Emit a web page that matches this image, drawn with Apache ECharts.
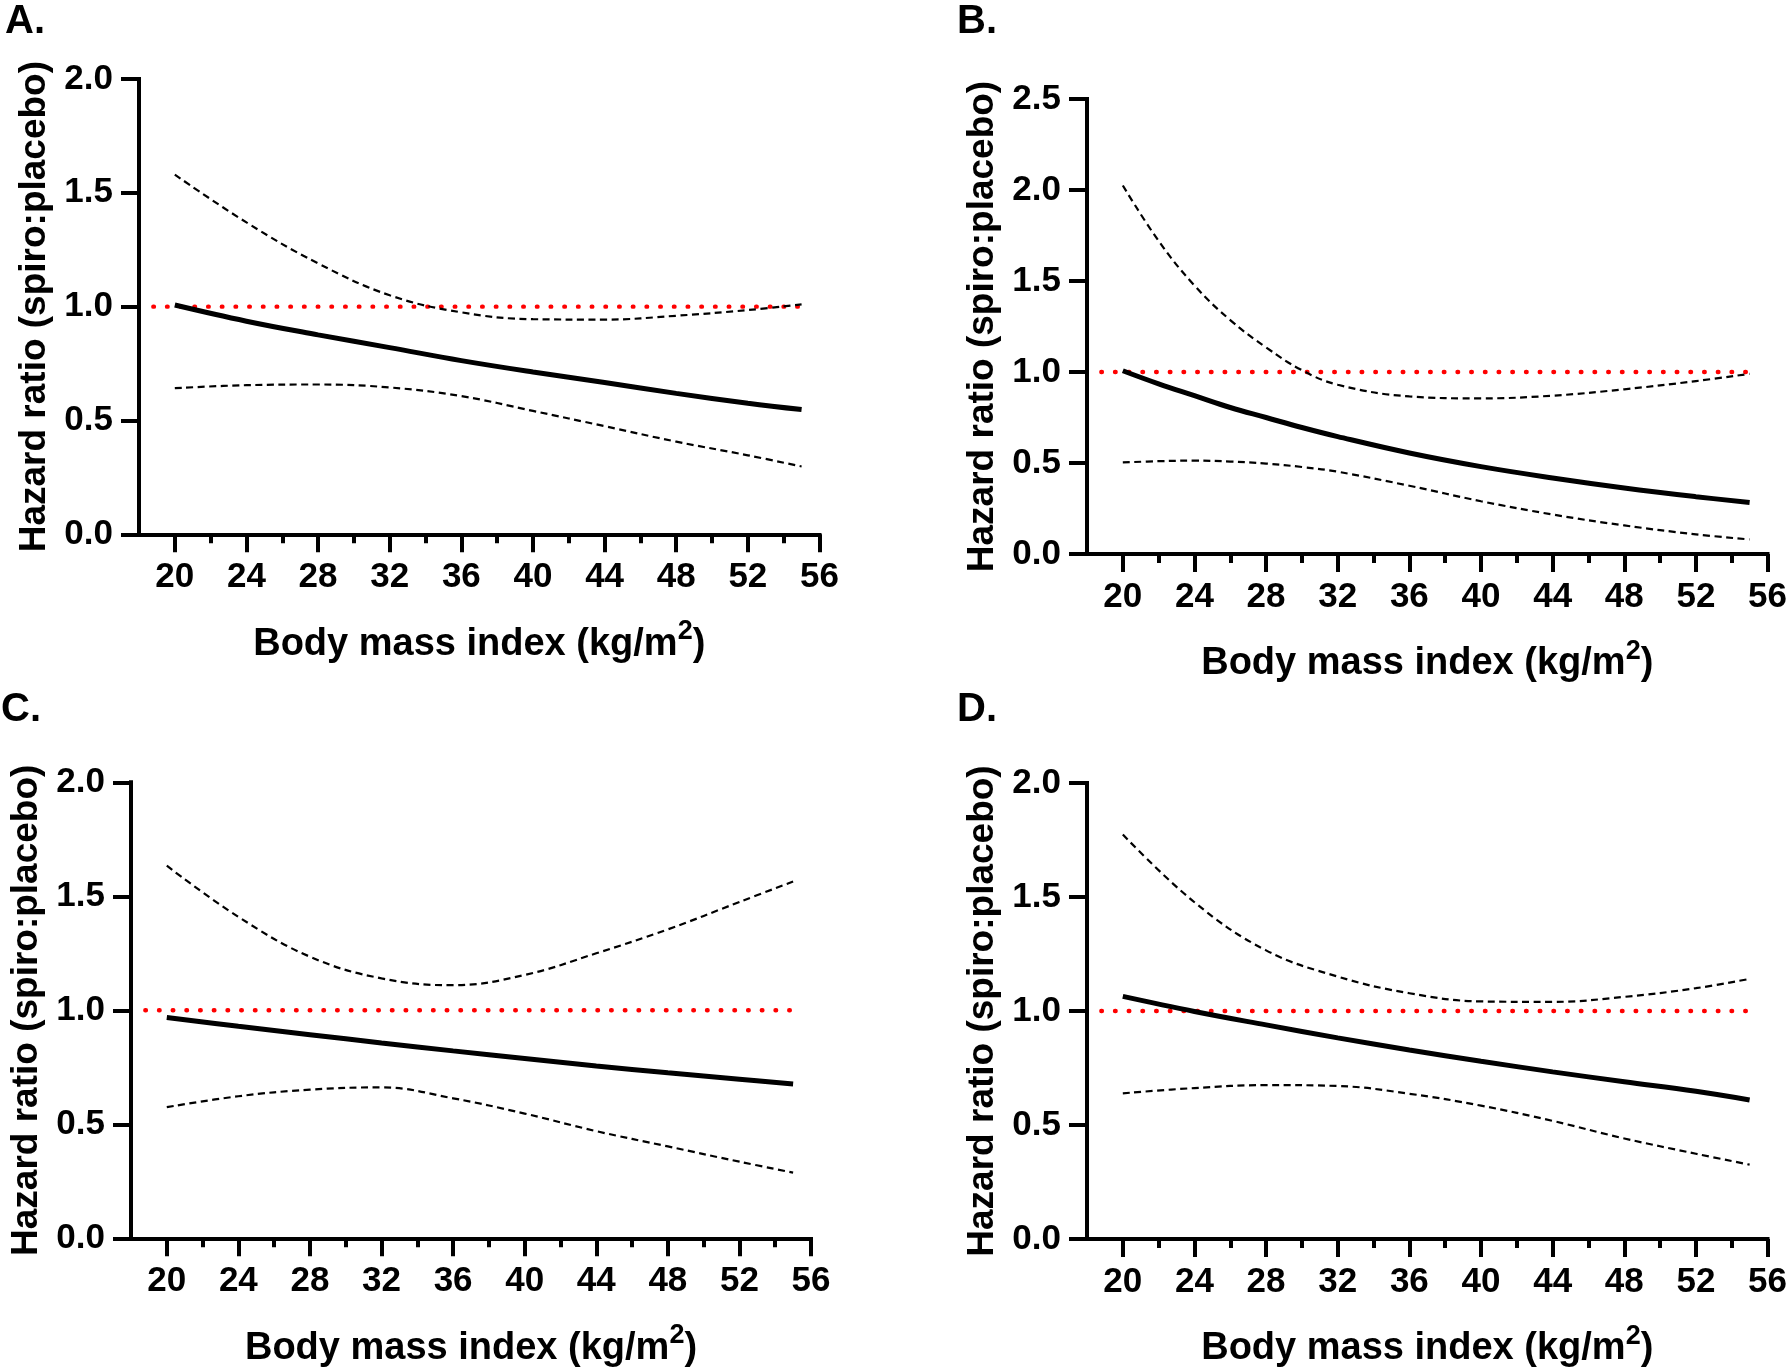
<!DOCTYPE html>
<html>
<head>
<meta charset="utf-8">
<script src="https://cdn.jsdelivr.net/npm/echarts@6/dist/echarts.min.js"></script>
<style>
  html, body { margin: 0; padding: 0; background: #ffffff; }
  #chart { width: 1790px; height: 1370px; }
</style>
</head>
<body>
<div id="chart"></div>
<script>
// ---------- Data ----------
const panelLetters = ['A.', 'B.', 'C.', 'D.'];
const xTickLabels = [20, 24, 28, 32, 36, 40, 44, 48, 52, 56];
const xMinorTicks = [22, 26, 30, 34, 38, 42, 46, 50, 54];
const yMaxes = [2.0, 2.5, 2.0, 2.0];
const refLineX = [18.8, 55.5];
const refLineY = [1, 1];

// Panel A
const bmiA   = [20, 24, 28, 32, 36, 40, 44, 48, 52, 55];
const hrA    = [1.007, 0.936, 0.876, 0.820, 0.763, 0.713, 0.667, 0.619, 0.576, 0.548];
const upperA = [1.580, 1.370, 1.190, 1.050, 0.975, 0.945, 0.943, 0.960, 0.985, 1.010];
const lowerA = [0.642, 0.655, 0.658, 0.645, 0.607, 0.542, 0.475, 0.407, 0.347, 0.298];

// Panel B
const bmiB   = [20, 22, 24, 26, 28, 30, 32, 36, 40, 44, 48, 52, 55];
const hrB    = [1.007, 0.935, 0.870, 0.805, 0.750, 0.695, 0.645, 0.555, 0.480, 0.418, 0.363, 0.315, 0.283];
const upperB = [2.025, 1.720, 1.475, 1.285, 1.135, 1.010, 0.930, 0.866, 0.855, 0.870, 0.905, 0.950, 0.990];
const lowerB = [0.503, 0.510, 0.513, 0.508, 0.497, 0.478, 0.452, 0.375, 0.290, 0.217, 0.157, 0.108, 0.080];

// Panel C
const bmiC   = [20, 24, 28, 32, 36, 40, 44, 48, 52, 55];
const hrC    = [0.968, 0.930, 0.893, 0.857, 0.822, 0.789, 0.756, 0.726, 0.698, 0.677];
const upperC = [1.634, 1.410, 1.235, 1.140, 1.110, 1.155, 1.250, 1.355, 1.475, 1.565];
const lowerC = [0.575, 0.623, 0.652, 0.662, 0.614, 0.547, 0.470, 0.403, 0.336, 0.288];

// Panel D
const bmiD   = [20, 24, 28, 32, 36, 40, 44, 48, 52, 55];
const hrD    = [1.064, 0.998, 0.939, 0.882, 0.829, 0.780, 0.733, 0.690, 0.648, 0.610];
const upperD = [1.774, 1.477, 1.266, 1.151, 1.078, 1.042, 1.040, 1.062, 1.100, 1.141];
const lowerD = [0.639, 0.662, 0.675, 0.671, 0.637, 0.585, 0.518, 0.441, 0.374, 0.326];

const panels = [
  { x: bmiA, hr: hrA, up: upperA, lo: lowerA },
  { x: bmiB, hr: hrB, up: upperB, lo: lowerB },
  { x: bmiC, hr: hrC, up: upperC, lo: lowerC },
  { x: bmiD, hr: hrD, up: upperD, lo: lowerD }
];

// ---------- Layout / style ----------
const FONT = '"Liberation Sans", Arial, Helvetica, sans-serif';
const grids = [
  { left: 139,  top: 79,    width: 680.5, height: 455.3 },
  { left: 1087, top: 99,    width: 684,   height: 455 },
  { left: 131,  top: 782.3, width: 680,   height: 456 },
  { left: 1087, top: 783,   width: 684,   height: 456 }
];
const letterPos = [
  { left: 5,   top: 2 },
  { left: 957, top: 2 },
  { left: 1,   top: 690 },
  { left: 957, top: 690 }
];

const zip = (xs, ys) => xs.map((v, i) => [v, ys[i]]);
const axisLineStyle = { color: '#000', width: 4, cap: 'square' };

const xAxes = [], yAxes = [], series = [], graphics = [];
panels.forEach((p, i) => {
  // main x axis
  xAxes.push({
    type: 'value', gridIndex: i, min: 18, max: 56,
    name: '{t|Body mass index (kg/m}{sup|2}{t|)}',
    nameLocation: 'middle', nameGap: 84,
    nameTextStyle: {
      fontFamily: FONT, fontSize: 38, fontWeight: 'bold', color: '#000',
      rich: {
        t:   { fontFamily: FONT, fontSize: 38, fontWeight: 'bold', color: '#000', lineHeight: 52 },
        sup: { fontFamily: FONT, fontSize: 27, fontWeight: 'bold', color: '#000', lineHeight: 27, verticalAlign: 'top' }
      }
    },
    axisLine: { show: true, onZero: false, lineStyle: axisLineStyle },
    axisTick: { show: true, length: 18, customValues: xTickLabels, lineStyle: { color: '#000', width: 4 } },
    axisLabel: { show: true, customValues: xTickLabels, margin: 26, fontFamily: FONT, fontSize: 35, fontWeight: 'bold', color: '#000' },
    splitLine: { show: false }
  });
  // minor tick overlay axis
  xAxes.push({
    type: 'value', gridIndex: i, min: 18, max: 56, position: 'bottom',
    axisLine: { show: false, onZero: false },
    axisTick: { show: true, length: 9, customValues: xMinorTicks, lineStyle: { color: '#000', width: 4 } },
    axisLabel: { show: false },
    splitLine: { show: false }
  });
  yAxes.push({
    type: 'value', gridIndex: i, min: 0, max: yMaxes[i], interval: 0.5,
    name: 'Hazard ratio (spiro:placebo)',
    nameLocation: 'middle', nameGap: 86, nameRotate: 90,
    nameTextStyle: { fontFamily: FONT, fontSize: 37, fontWeight: 'bold', color: '#000' },
    axisLine: { show: true, onZero: false, lineStyle: axisLineStyle },
    axisTick: { show: true, length: 18, lineStyle: { color: '#000', width: 4 } },
    axisLabel: { margin: 26, fontFamily: FONT, fontSize: 35, fontWeight: 'bold', color: '#000',
                 formatter: v => v.toFixed(1) },
    splitLine: { show: false }
  });
  const xi = i * 2;
  series.push({
    type: 'line', xAxisIndex: xi, yAxisIndex: i, data: zip(refLineX, refLineY),
    showSymbol: false, symbol: 'none', silent: true,
    lineStyle: { color: '#ff0000', width: 4.4, type: [0.6, 13.1], cap: 'round' }, z: 2
  });
  series.push({
    type: 'line', xAxisIndex: xi, yAxisIndex: i, data: zip(p.x, p.up),
    smooth: 0.4, symbol: 'none',
    lineStyle: { color: '#000', width: 2.2, type: [7, 4.5] }, z: 3
  });
  series.push({
    type: 'line', xAxisIndex: xi, yAxisIndex: i, data: zip(p.x, p.lo),
    smooth: 0.4, symbol: 'none',
    lineStyle: { color: '#000', width: 2.2, type: [7, 4.5] }, z: 3
  });
  series.push({
    type: 'line', xAxisIndex: xi, yAxisIndex: i, data: zip(p.x, p.hr),
    smooth: 0.4, symbol: 'none',
    lineStyle: { color: '#000', width: 5 }, z: 4
  });
  graphics.push({
    type: 'text', left: letterPos[i].left, top: letterPos[i].top,
    style: { text: panelLetters[i], font: 'bold 40px ' + FONT, fill: '#000' }
  });
});

const chart = echarts.init(document.getElementById('chart'), null, { renderer: 'canvas' });
chart.setOption({
  backgroundColor: '#ffffff',
  animation: false,
  grid: grids,
  xAxis: xAxes,
  yAxis: yAxes,
  series: series,
  graphic: graphics
});
</script>
</body>
</html>
